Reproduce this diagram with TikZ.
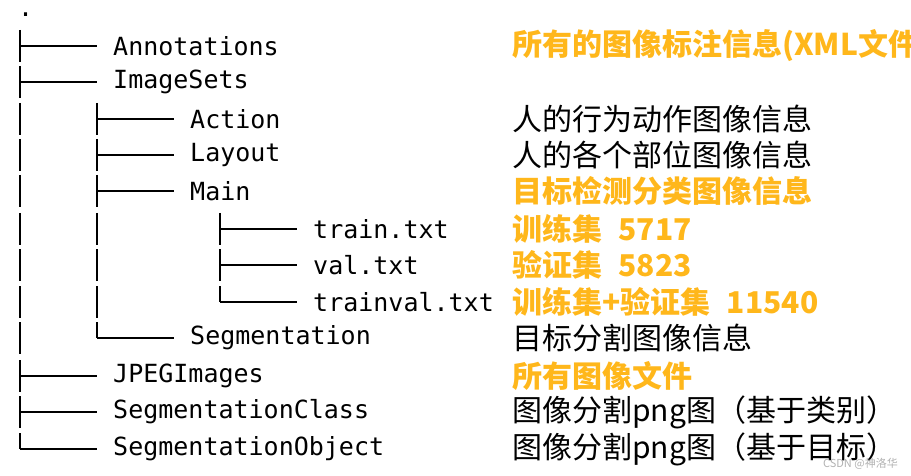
\documentclass[tikz,border=0pt]{standalone}
\usepackage{fontspec}
\setmonofont{DejaVu Sans Mono}
\newfontfamily\cjk{Noto Sans CJK SC}
\definecolor{orng}{RGB}{255,183,27}
\begin{document}
\begin{tikzpicture}[x=1pt,y=-1pt,
  fname/.style={anchor=west,inner sep=0pt,font=\fontsize{25}{25}\selectfont\ttfamily},
  desc/.style={anchor=west,inner sep=0pt,font=\fontsize{30}{30}\selectfont\cjk},
  hi/.style={desc,text=orng,font=\fontsize{30}{30}\selectfont\cjk\bfseries},
  tree/.style={line width=2.4pt}]
\useasboundingbox (0,0) rectangle (911,476);
\fill[white] (0,0) rectangle (911,476);
\node[fname] (dot) at (18,15) {.};
% names
\node[fname] (a) at (113,46) {Annotations};
\node[fname] (b) at (113,82) {ImageSets};
\node[fname] (c) at (190,119) {Action};
\node[fname] (d) at (190,155) {Layout};
\node[fname] (e) at (190,191) {Main};
\node[fname] (f) at (313,229) {train.txt};
\node[fname] (g) at (313,265) {val.txt};
\node[fname] (h) at (313,302) {trainval.txt};
\node[fname] (i) at (190,338) {Segmentation};
\node[fname] (j) at (113,376) {JPEGImages};
\node[fname] (k) at (113,412) {SegmentationClass};
\node[fname] (l) at (113,449) {SegmentationObject};
% descriptions
\node[hi] (da) at (512,46) {所有的图像标注信息(XML文件};
\node[desc] (dc) at (512,119) {人的行为动作图像信息};
\node[desc] (dd) at (512,155) {人的各个部位图像信息};
\node[hi] (de) at (512,191) {目标检测分类图像信息};
\node[hi] (df) at (512,229) {训练集\hspace{0.55em}5717};
\node[hi] (dg) at (512,265) {验证集\hspace{0.55em}5823};
\node[hi] (dh) at (512,302) {训练集+验证集\hspace{0.55em}11540};
\node[desc] (di) at (512,338) {目标分割图像信息};
\node[hi] (dj) at (512,376) {所有图像文件};
\node[desc] (dk) at (512,412) {图像分割png图（基于类别）};
\node[desc] (dl) at (512,449) {图像分割png图（基于目标）};
\node[anchor=east,inner sep=0pt,text=gray!60,font=\fontsize{11}{11}\selectfont\cjk] (wm) at (898,464) {CSDN @神洛华};
% tree lines
\foreach \x/\y in {20/46,20/82,20/376,20/412, 97/119,97/155,97/191, 220/229,220/265}
  {\draw[tree] (\x,\y-16) -- (\x,\y+16); \draw[tree] (\x,\y) -- (\x+77,\y);}
\foreach \x/\y in {20/449, 97/338, 220/302}
  {\draw[tree] (\x,\y-16) -- (\x,\y); \draw[tree] (\x,\y) -- (\x+77,\y);}
\foreach \x/\y in {20/119,20/155,20/191,20/229,20/265,20/302,20/338, 97/229,97/265,97/302}
  {\draw[tree] (\x,\y-16) -- (\x,\y+16);}
\end{tikzpicture}
\end{document}
